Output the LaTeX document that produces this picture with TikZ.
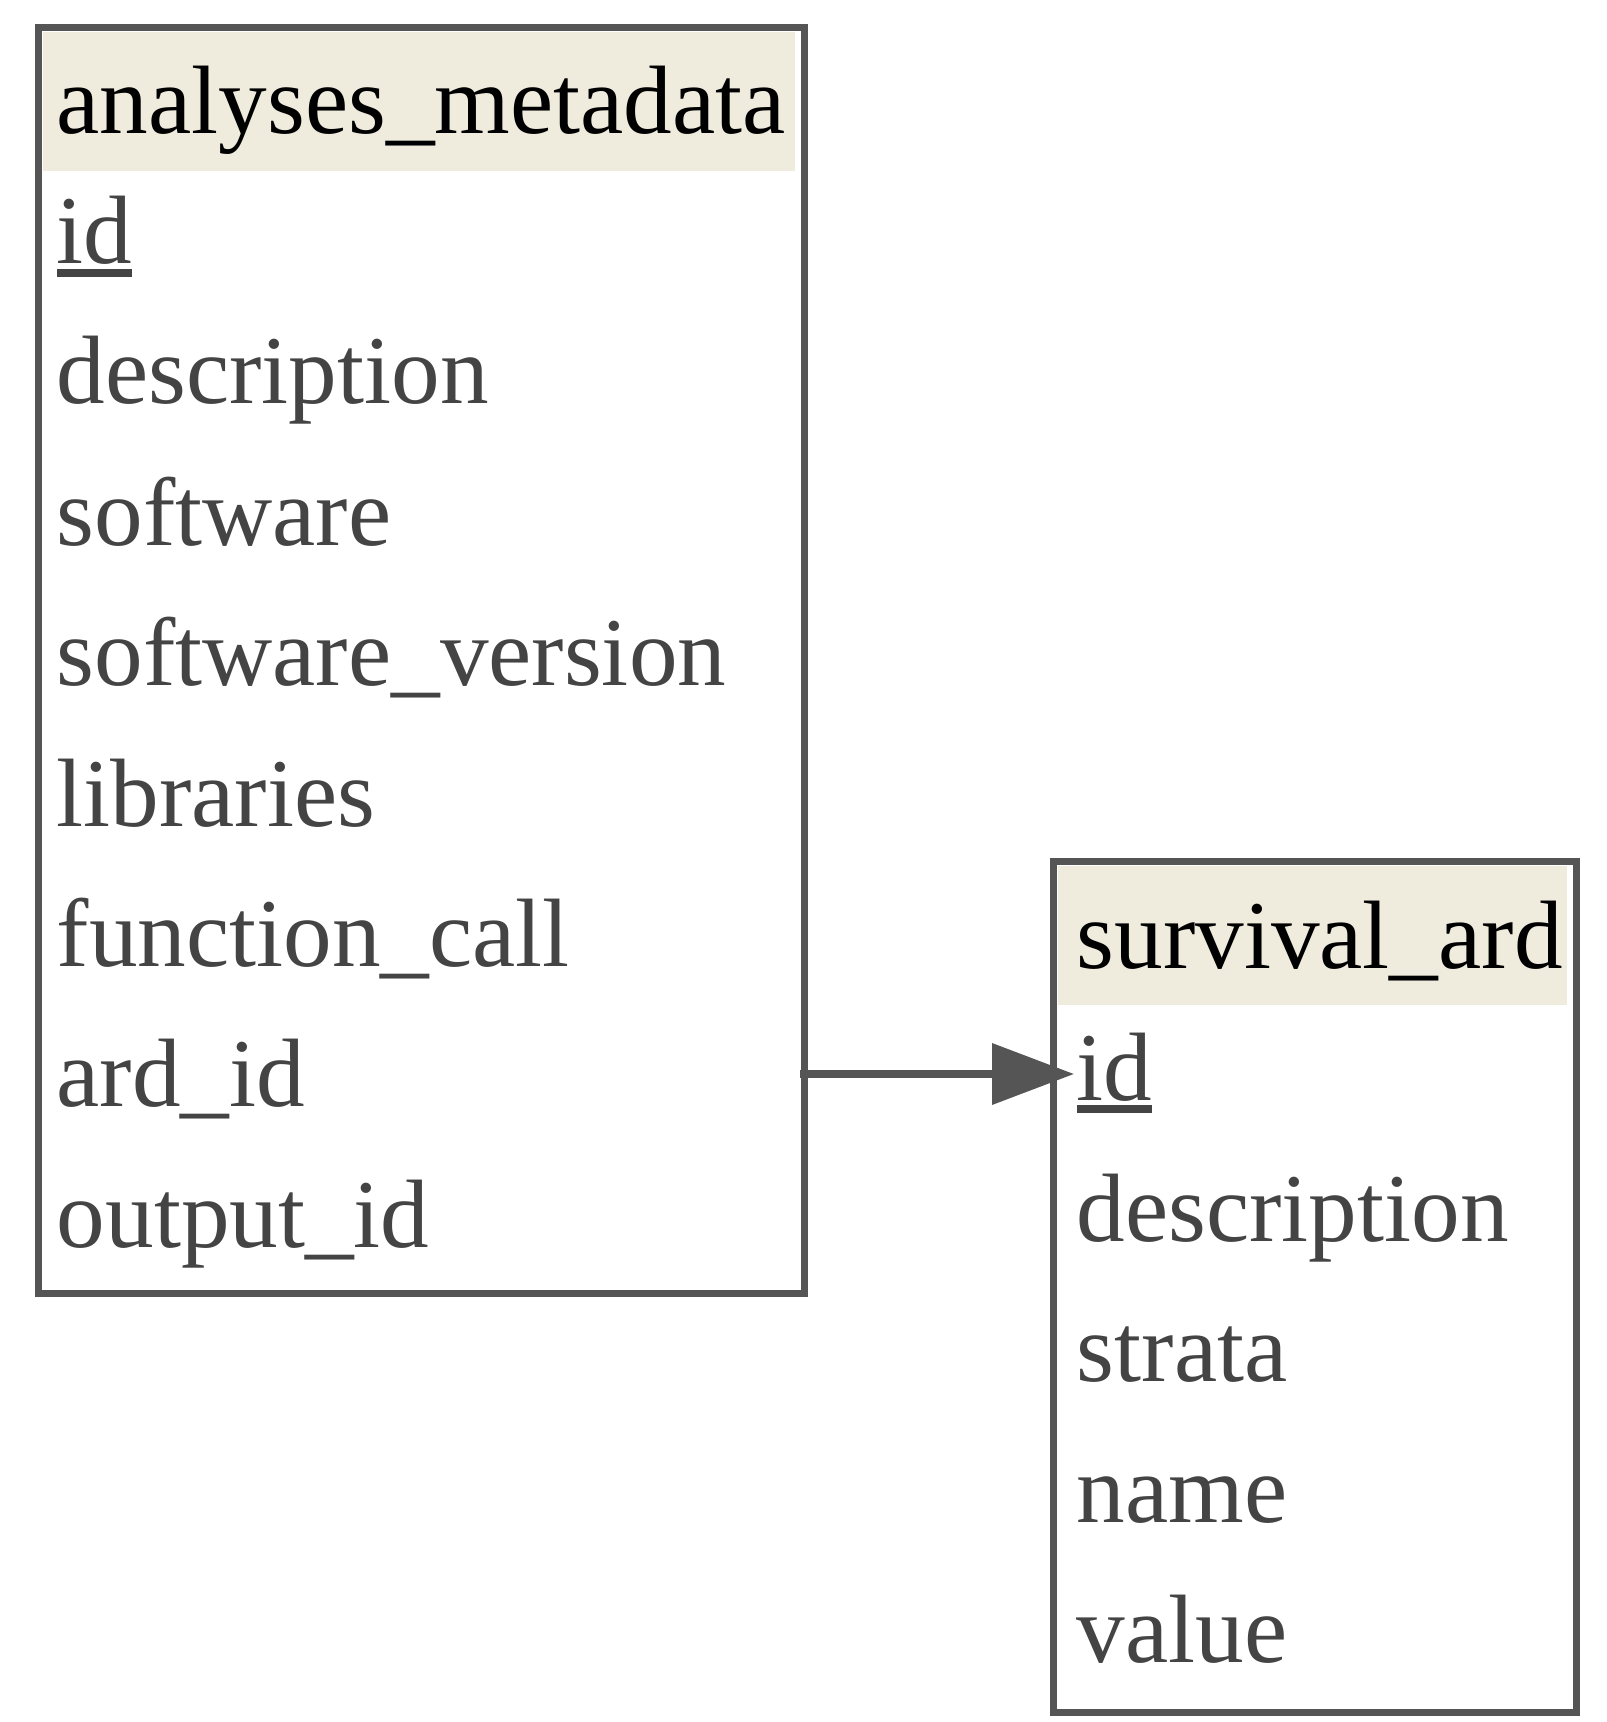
\documentclass[tikz,border=0pt]{standalone}
\usepackage{fontspec}
\setmainfont{Liberation Serif}
\usetikzlibrary{arrows.meta}
\definecolor{linegray}{HTML}{555555}
\definecolor{textgray}{HTML}{444444}
\definecolor{headfill}{HTML}{EFEBDD}
\newcommand{\keyfield}[1]{\setbox0\hbox{#1}\rlap{\rule[-3.3pt]{\wd0}{2pt}}\box0}

\begin{document}
\begin{tikzpicture}[x=0.25pt, y=-0.25pt, font=\fontsize{24.3pt}{29pt}\selectfont,
  frame/.style={draw=linegray,line width=1.75pt,anchor=north west,inner sep=0pt},
  head/.style={fill=headfill,anchor=north west,inner sep=0pt,minimum height=34.75pt},
  title/.style={anchor=base west,inner sep=0pt,text=black},
  field/.style={anchor=base west,inner sep=0pt,text=textgray,text height=20pt,text depth=4pt},
  link/.style={draw=linegray,line width=1.8pt,-{Triangle[length=20.5pt,width=15pt]},shorten <=-2pt,shorten >=0.5pt}]
                      \useasboundingbox (0,0) rectangle (1606,1722);

                      \node[head,minimum width=188pt] (metahead) at (42,31) {};
                      \node[frame,minimum width=191.5pt,minimum height=316.5pt] (metabox) at (35,24) {};
                      \node[title] (mtitle) at (56,134) {analyses\_metadata};
                      \node[field] (mid) at (56,264) {\keyfield{id}};
                      \node[field] (mdesc) at (56,404) {description};
                      \node[field] (msoft) at (56,545) {software};
                      \node[field] (msoftver) at (56,685) {software\_version};
                      \node[field] (mlibs) at (56,826) {libraries};
                      \node[field] (mcall) at (56,966) {function\_call};
                      \node[field] (mard) at (56,1106) {ard\_id};
                      \node[field] (mout) at (56,1247) {output\_id};

                      \node[head,minimum width=127.25pt] (survhead) at (1057,865) {};
                      \node[frame,minimum width=130.75pt,minimum height=212.75pt] (survbox) at (1050,858) {};
                      \node[title] (stitle) at (1076,968) {survival\_ard};
                      \node[field] (sid) at (1076,1100) {\keyfield{id}};
                      \node[field] (sdesc) at (1076,1241) {description};
                      \node[field] (sstrata) at (1076,1381) {strata};
                      \node[field] (sname) at (1076,1522) {name};
                      \node[field] (svalue) at (1076,1662) {value};

                      \draw[link] (metabox.east |- mard.west) -- (sid.west |- mard.west);
                    \end{tikzpicture}
\end{document}
